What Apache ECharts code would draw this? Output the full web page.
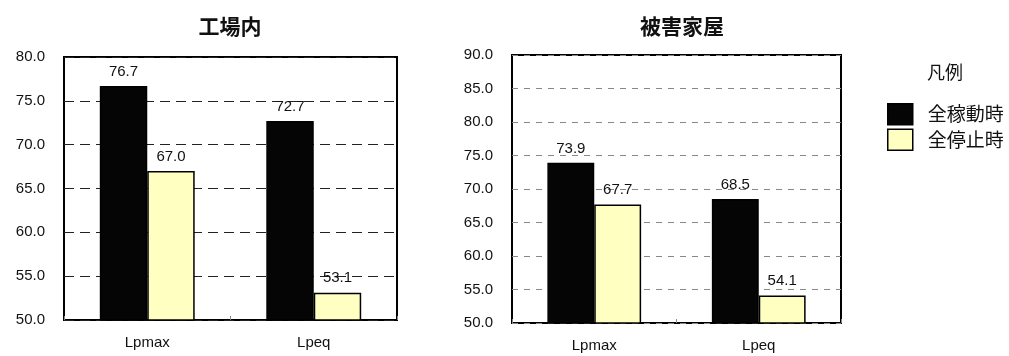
<!DOCTYPE html>
<html>
<head>
<meta charset="utf-8">
<script src="https://cdn.jsdelivr.net/npm/echarts@6/dist/echarts.min.js"></script>
<style>
html,body{margin:0;padding:0;background:#fff;}
#c{width:1009px;height:356px;}
</style>
</head>
<body>
<div id="c"></div>
<script>
const categories = ['Lpmax', 'Lpeq'];
const seriesNames = ['全稼動時', '全停止時'];
const factoryRunning = [76.7, 72.7];
const factoryStopped = [67.0, 53.1];
const houseRunning = [73.9, 68.5];
const houseStopped = [67.7, 54.1];
const titles = ['工場内', '被害家屋'];
const legendTitle = '凡例';

const FONT = '"Liberation Sans", Arial, "Noto Sans CJK JP", sans-serif';
const CJK = '"Noto Sans CJK JP", sans-serif';
const BLACK = '#050505';
const YELLOW = '#FFFFC2';

function bar(name, data, idx, color) {
  return {
    name: name, type: 'bar', xAxisIndex: idx, yAxisIndex: idx, data: data,
    barGap: '0%', barCategoryGap: '43%',
    itemStyle: { color: color, borderColor: '#000', borderWidth: 1.5 },
    label: { show: true, position: 'top', distance: 7, fontSize: 15, color: '#111', fontFamily: FONT,
             formatter: p => p.value.toFixed(1) }
  };
}

const chart = echarts.init(document.getElementById('c'));
chart.setOption({
  backgroundColor: '#fff',
  animation: false,
  title: [
    { text: titles[0], left: 225, top: 11, textAlign: 'center', textStyle: { fontFamily: CJK, fontSize: 21, fontWeight: 'bold', color: '#111' } },
    { text: titles[1], left: 677, top: 11, textAlign: 'center', textStyle: { fontFamily: CJK, fontSize: 21, fontWeight: 'bold', color: '#111' } },
    { text: legendTitle, left: 940, top: 58, textAlign: 'center', textStyle: { fontFamily: CJK, fontSize: 18, fontWeight: 'normal', color: '#111' } }
  ],
  legend: {
    data: seriesNames, orient: 'vertical', left: 882, top: 98,
    itemWidth: 25, itemHeight: 21, itemGap: 3,
    icon: 'rect',
    textStyle: { fontFamily: CJK, fontSize: 19, color: '#111', padding: [0, 0, 0, 10] },
    itemStyle: { borderColor: '#000', borderWidth: 1.5 }
  },
  grid: [
    { left: 64, top: 57, width: 333, bottom: 36, show: true, borderColor: '#000', borderWidth: 2, backgroundColor: 'transparent' },
    { left: 512, top: 55, width: 329, bottom: 33, show: true, borderColor: '#000', borderWidth: 2, backgroundColor: 'transparent' }
  ],
  xAxis: [0, 1].map(i => ({
    type: 'category', gridIndex: i, data: categories,
    axisLine: { show: false },
    axisTick: { show: true, inside: true, length: 4, lineStyle: { color: '#888' } },
    axisLabel: { fontFamily: FONT, fontSize: 15, color: '#111', margin: 15 }
  })),
  yAxis: [
    { type: 'value', gridIndex: 0, min: 50, max: 80, interval: 5,
      axisLine: { show: false }, axisTick: { show: false },
      axisLabel: { fontFamily: FONT, fontSize: 15, color: '#111', margin: 19, formatter: v => v.toFixed(1) },
      splitLine: { show: true, lineStyle: { color: '#222', width: 1.2, type: [10, 6] } } },
    { type: 'value', gridIndex: 1, min: 50, max: 90, interval: 5,
      axisLine: { show: false }, axisTick: { show: false },
      axisLabel: { fontFamily: FONT, fontSize: 15, color: '#111', margin: 19, formatter: v => v.toFixed(1) },
      splitLine: { show: true, lineStyle: { color: '#888', width: 1, type: [6, 6] } } }
  ],
  series: [
    bar(seriesNames[0], factoryRunning, 0, BLACK),
    bar(seriesNames[1], factoryStopped, 0, YELLOW),
    bar(seriesNames[0], houseRunning, 1, BLACK),
    bar(seriesNames[1], houseStopped, 1, YELLOW)
  ]
});
</script>
</body>
</html>
